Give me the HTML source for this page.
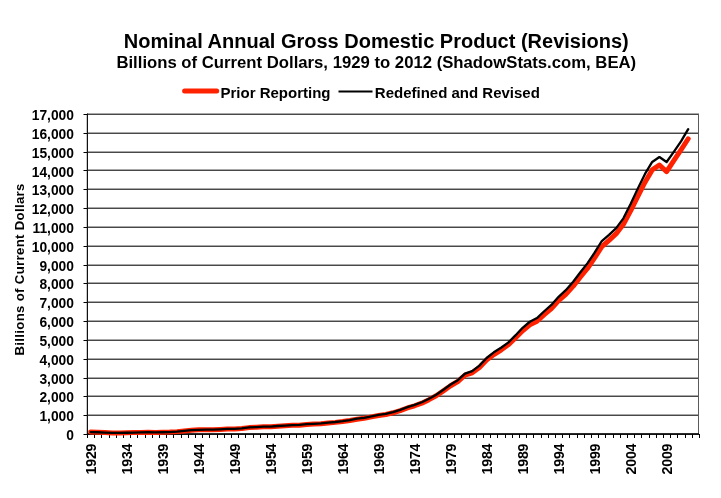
<!DOCTYPE html><html><head><meta charset="utf-8"><style>html,body{margin:0;padding:0;background:#fff;}svg{display:block;will-change:transform;}text{font-family:"Liberation Sans", sans-serif;font-weight:bold;fill:#000;}</style></head><body>
<svg width="721" height="498" viewBox="0 0 721 498">
<rect width="721" height="498" fill="#fff"/>
<text x="376.3" y="48.1" font-size="20.0" text-anchor="middle">Nominal Annual Gross Domestic Product (Revisions)</text>
<text x="376.3" y="68.2" font-size="16.72" text-anchor="middle">Billions of Current Dollars, 1929 to 2012 (ShadowStats.com, BEA)</text>
<line x1="184.6" y1="91.05" x2="216.7" y2="91.05" stroke="#ff2200" stroke-width="5" stroke-linecap="round"/>
<text x="220.5" y="98" font-size="15.0">Prior Reporting</text>
<line x1="338.5" y1="91.5" x2="372.5" y2="91.5" stroke="#000" stroke-width="2"/>
<text x="374.8" y="98" font-size="15.0">Redefined and Revised</text>
<path d="M87.0,433.5H699.0 M87.0,414.5H699.0 M87.0,395.5H699.0 M87.0,377.5H699.0 M87.0,358.5H699.0 M87.0,339.5H699.0 M87.0,320.5H699.0 M87.0,301.5H699.0 M87.0,282.5H699.0 M87.0,264.5H699.0 M87.0,245.5H699.0 M87.0,226.5H699.0 M87.0,207.5H699.0 M87.0,188.5H699.0 M87.0,169.5H699.0 M87.0,151.5H699.0 M87.0,132.5H699.0 M87.0,113.5H699.0" stroke="#a8a8a8" stroke-width="1" fill="none"/>
<path d="M87.0,434.5H699.0 M87.0,415.5H699.0 M87.0,396.5H699.0 M87.0,378.5H699.0 M87.0,359.5H699.0 M87.0,340.5H699.0 M87.0,321.5H699.0 M87.0,302.5H699.0 M87.0,283.5H699.0 M87.0,265.5H699.0 M87.0,246.5H699.0 M87.0,227.5H699.0 M87.0,208.5H699.0 M87.0,189.5H699.0 M87.0,170.5H699.0 M87.0,152.5H699.0 M87.0,133.5H699.0 M87.0,114.5H699.0" stroke="#484848" stroke-width="1" fill="none"/>
<line x1="698.5" y1="114.0" x2="698.5" y2="434.0" stroke="#5a5a5a" stroke-width="1"/>
<line x1="86.5" y1="114.0" x2="86.5" y2="434.0" stroke="#c8c8c8" stroke-width="1"/>
<path d="M83.5,434.5H87.0 M83.5,415.5H87.0 M83.5,396.5H87.0 M83.5,378.5H87.0 M83.5,359.5H87.0 M83.5,340.5H87.0 M83.5,321.5H87.0 M83.5,302.5H87.0 M83.5,283.5H87.0 M83.5,265.5H87.0 M83.5,246.5H87.0 M83.5,227.5H87.0 M83.5,208.5H87.0 M83.5,189.5H87.0 M83.5,170.5H87.0 M83.5,152.5H87.0 M83.5,133.5H87.0 M83.5,114.5H87.0" stroke="#000" stroke-width="1" fill="none"/>
<path d="M87.5,434.0V438.0 M94.5,434.0V438.0 M101.5,434.0V438.0 M109.5,434.0V438.0 M116.5,434.0V438.0 M123.5,434.0V438.0 M130.5,434.0V438.0 M137.5,434.0V438.0 M145.5,434.0V438.0 M152.5,434.0V438.0 M159.5,434.0V438.0 M166.5,434.0V438.0 M173.5,434.0V438.0 M181.5,434.0V438.0 M188.5,434.0V438.0 M195.5,434.0V438.0 M202.5,434.0V438.0 M209.5,434.0V438.0 M217.5,434.0V438.0 M224.5,434.0V438.0 M231.5,434.0V438.0 M238.5,434.0V438.0 M245.5,434.0V438.0 M253.5,434.0V438.0 M260.5,434.0V438.0 M267.5,434.0V438.0 M274.5,434.0V438.0 M281.5,434.0V438.0 M289.5,434.0V438.0 M296.5,434.0V438.0 M303.5,434.0V438.0 M310.5,434.0V438.0 M317.5,434.0V438.0 M325.5,434.0V438.0 M332.5,434.0V438.0 M339.5,434.0V438.0 M346.5,434.0V438.0 M353.5,434.0V438.0 M361.5,434.0V438.0 M368.5,434.0V438.0 M375.5,434.0V438.0 M382.5,434.0V438.0 M389.5,434.0V438.0 M397.5,434.0V438.0 M404.5,434.0V438.0 M411.5,434.0V438.0 M418.5,434.0V438.0 M425.5,434.0V438.0 M433.5,434.0V438.0 M440.5,434.0V438.0 M447.5,434.0V438.0 M454.5,434.0V438.0 M461.5,434.0V438.0 M469.5,434.0V438.0 M476.5,434.0V438.0 M483.5,434.0V438.0 M490.5,434.0V438.0 M497.5,434.0V438.0 M505.5,434.0V438.0 M512.5,434.0V438.0 M519.5,434.0V438.0 M526.5,434.0V438.0 M533.5,434.0V438.0 M541.5,434.0V438.0 M548.5,434.0V438.0 M555.5,434.0V438.0 M562.5,434.0V438.0 M569.5,434.0V438.0 M577.5,434.0V438.0 M584.5,434.0V438.0 M591.5,434.0V438.0 M598.5,434.0V438.0 M605.5,434.0V438.0 M613.5,434.0V438.0 M620.5,434.0V438.0 M627.5,434.0V438.0 M634.5,434.0V438.0 M641.5,434.0V438.0 M649.5,434.0V438.0 M656.5,434.0V438.0 M663.5,434.0V438.0 M670.5,434.0V438.0 M677.5,434.0V438.0 M685.5,434.0V438.0 M692.5,434.0V438.0 M699.5,434.0V438.0" stroke="#000" stroke-width="1" fill="none"/>
<line x1="87.5" y1="113.5" x2="87.5" y2="435.0" stroke="#111" stroke-width="1"/>
<line x1="87.0" y1="434.0" x2="699.0" y2="434.0" stroke="#000" stroke-width="1.4"/>
<text x="74.02" y="440.0" font-size="13.8" letter-spacing="0.02" text-anchor="end">0</text>
<text x="74.02" y="421.2" font-size="13.8" letter-spacing="0.02" text-anchor="end">1,000</text>
<text x="74.02" y="402.4" font-size="13.8" letter-spacing="0.02" text-anchor="end">2,000</text>
<text x="74.02" y="383.5" font-size="13.8" letter-spacing="0.02" text-anchor="end">3,000</text>
<text x="74.02" y="364.7" font-size="13.8" letter-spacing="0.02" text-anchor="end">4,000</text>
<text x="74.02" y="345.9" font-size="13.8" letter-spacing="0.02" text-anchor="end">5,000</text>
<text x="74.02" y="327.1" font-size="13.8" letter-spacing="0.02" text-anchor="end">6,000</text>
<text x="74.02" y="308.2" font-size="13.8" letter-spacing="0.02" text-anchor="end">7,000</text>
<text x="74.02" y="289.4" font-size="13.8" letter-spacing="0.02" text-anchor="end">8,000</text>
<text x="74.02" y="270.6" font-size="13.8" letter-spacing="0.02" text-anchor="end">9,000</text>
<text x="74.02" y="251.8" font-size="13.8" letter-spacing="0.02" text-anchor="end">10,000</text>
<text x="74.02" y="232.9" font-size="13.8" letter-spacing="0.02" text-anchor="end">11,000</text>
<text x="74.02" y="214.1" font-size="13.8" letter-spacing="0.02" text-anchor="end">12,000</text>
<text x="74.02" y="195.3" font-size="13.8" letter-spacing="0.02" text-anchor="end">13,000</text>
<text x="74.02" y="176.5" font-size="13.8" letter-spacing="0.02" text-anchor="end">14,000</text>
<text x="74.02" y="157.6" font-size="13.8" letter-spacing="0.02" text-anchor="end">15,000</text>
<text x="74.02" y="138.8" font-size="13.8" letter-spacing="0.02" text-anchor="end">16,000</text>
<text x="74.02" y="120.0" font-size="13.8" letter-spacing="0.02" text-anchor="end">17,000</text>
<text transform="translate(95.50,443.7) rotate(-90)" font-size="14.2" letter-spacing="-0.2" text-anchor="end">1929</text>
<text transform="translate(131.50,443.7) rotate(-90)" font-size="14.2" letter-spacing="-0.2" text-anchor="end">1934</text>
<text transform="translate(167.50,443.7) rotate(-90)" font-size="14.2" letter-spacing="-0.2" text-anchor="end">1939</text>
<text transform="translate(203.50,443.7) rotate(-90)" font-size="14.2" letter-spacing="-0.2" text-anchor="end">1944</text>
<text transform="translate(239.50,443.7) rotate(-90)" font-size="14.2" letter-spacing="-0.2" text-anchor="end">1949</text>
<text transform="translate(275.50,443.7) rotate(-90)" font-size="14.2" letter-spacing="-0.2" text-anchor="end">1954</text>
<text transform="translate(311.50,443.7) rotate(-90)" font-size="14.2" letter-spacing="-0.2" text-anchor="end">1959</text>
<text transform="translate(347.50,443.7) rotate(-90)" font-size="14.2" letter-spacing="-0.2" text-anchor="end">1964</text>
<text transform="translate(383.50,443.7) rotate(-90)" font-size="14.2" letter-spacing="-0.2" text-anchor="end">1969</text>
<text transform="translate(419.50,443.7) rotate(-90)" font-size="14.2" letter-spacing="-0.2" text-anchor="end">1974</text>
<text transform="translate(455.50,443.7) rotate(-90)" font-size="14.2" letter-spacing="-0.2" text-anchor="end">1979</text>
<text transform="translate(491.50,443.7) rotate(-90)" font-size="14.2" letter-spacing="-0.2" text-anchor="end">1984</text>
<text transform="translate(527.50,443.7) rotate(-90)" font-size="14.2" letter-spacing="-0.2" text-anchor="end">1989</text>
<text transform="translate(563.50,443.7) rotate(-90)" font-size="14.2" letter-spacing="-0.2" text-anchor="end">1994</text>
<text transform="translate(599.50,443.7) rotate(-90)" font-size="14.2" letter-spacing="-0.2" text-anchor="end">1999</text>
<text transform="translate(635.50,443.7) rotate(-90)" font-size="14.2" letter-spacing="-0.2" text-anchor="end">2004</text>
<text transform="translate(671.50,443.7) rotate(-90)" font-size="14.2" letter-spacing="-0.2" text-anchor="end">2009</text>
<text transform="translate(24.3,269.4) rotate(-90)" font-size="13.2" letter-spacing="0.33" text-anchor="middle">Billions of Current Dollars</text>
<path d="M90.60,432.05 L97.80,432.28 L105.00,432.56 L112.20,432.90 L119.40,432.94 L126.60,432.76 L133.80,432.62 L141.00,432.42 L148.20,432.27 L155.40,432.38 L162.60,432.26 L169.80,432.09 L177.00,431.62 L184.20,430.95 L191.40,430.26 L198.60,429.86 L205.80,429.80 L213.00,429.82 L220.20,429.41 L227.40,428.93 L234.60,428.97 L241.80,428.47 L249.00,427.61 L256.20,427.26 L263.40,426.86 L270.60,426.84 L277.80,426.19 L285.00,425.77 L292.20,425.32 L299.40,425.21 L306.60,424.46 L313.80,424.09 L321.00,423.75 L328.20,422.98 L335.40,422.37 L342.60,421.51 L349.80,420.46 L357.00,419.17 L364.20,418.33 L371.40,416.87 L378.60,415.47 L385.80,414.46 L393.00,412.79 L400.20,410.70 L407.40,407.98 L414.60,405.77 L421.80,403.17 L429.00,399.65 L436.20,395.79 L443.40,390.82 L450.60,385.77 L457.80,381.52 L465.00,375.14 L472.20,372.76 L479.40,367.47 L486.60,360.01 L493.80,354.61 L501.00,350.05 L508.20,344.84 L515.40,337.99 L522.60,330.81 L529.80,324.81 L537.00,321.21 L544.20,314.62 L551.40,308.50 L558.60,300.63 L565.80,294.43 L573.00,286.45 L580.20,277.15 L587.40,268.48 L594.60,257.93 L601.80,246.68 L609.00,240.38 L616.20,233.67 L623.40,224.26 L630.60,210.88 L637.80,196.39 L645.00,182.19 L652.20,169.93 L659.40,164.98 L666.60,171.62 L673.80,160.56 L681.00,149.88 L688.20,138.76" stroke="#ff2200" stroke-width="5.0" fill="none" stroke-linejoin="round" stroke-linecap="round"/>
<path d="M90.60,432.03 L97.80,432.26 L105.00,432.54 L112.20,432.88 L119.40,432.92 L126.60,432.74 L133.80,432.60 L141.00,432.40 L148.20,432.25 L155.40,432.35 L162.60,432.24 L169.80,432.06 L177.00,431.56 L184.20,430.88 L191.40,430.18 L198.60,429.78 L205.80,429.71 L213.00,429.72 L220.20,429.30 L227.40,428.83 L234.60,428.87 L241.80,428.36 L249.00,427.47 L256.20,427.09 L263.40,426.67 L270.60,426.65 L277.80,425.99 L285.00,425.54 L292.20,425.08 L299.40,424.94 L306.60,424.18 L313.80,423.79 L321.00,423.42 L328.20,422.63 L335.40,422.00 L342.60,421.12 L349.80,420.03 L357.00,418.69 L364.20,417.81 L371.40,416.29 L378.60,414.85 L385.80,413.80 L393.00,412.07 L400.20,409.92 L407.40,407.17 L414.60,404.91 L421.80,402.28 L429.00,398.74 L436.20,394.81 L443.40,389.73 L450.60,384.54 L457.80,380.22 L465.00,373.63 L472.20,371.06 L479.40,365.60 L486.60,358.00 L493.80,352.32 L501.00,347.80 L508.20,342.61 L515.40,335.43 L522.60,327.81 L529.80,321.75 L537.00,318.08 L544.20,311.26 L551.40,304.90 L558.60,296.83 L565.80,290.19 L573.00,282.04 L580.20,272.54 L587.40,263.41 L594.60,252.72 L601.80,241.02 L609.00,234.81 L616.20,228.14 L623.40,218.32 L630.60,204.10 L637.80,188.61 L645.00,173.96 L652.20,161.96 L659.40,157.05 L666.60,162.02 L673.80,151.80 L681.00,141.43 L688.20,129.12" stroke="#000" stroke-width="2.3" fill="none" stroke-linejoin="round" stroke-linecap="round"/>
</svg></body></html>
